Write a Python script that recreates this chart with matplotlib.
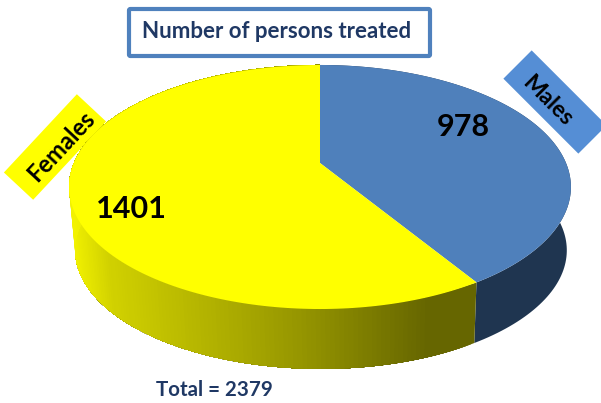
import numpy as np
import matplotlib.pyplot as plt
from matplotlib.patches import FancyBboxPatch, Rectangle
from matplotlib.transforms import Affine2D

# Data
categories = ['Males', 'Females']
values = [978, 1401]
title_text = 'Number of persons treated'

# Colours
top_colors = ['#4f80bb', '#ffff00']
blue_side = '#1f3550'
label_colors = ['#558ed5', '#ffff00']
navy = '#1f3864'

plt.rcParams['font.family'] = ['Lato', 'DejaVu Sans']

# Perspective settings of the disc, in pixels
tilt = 0.1967


# Circle angle (clockwise from top) to picture position
def project(theta, cx, cy, a, b):
    u = np.sin(theta)
    v = np.cos(theta)
    w = 1 + tilt * v
    return cx + a * u / w, cy - b * v / w


def top_edge(theta):
    return project(theta, 320, 163, 246, 117.3)


def bottom_edge(theta):
    return project(theta, 321, 227, 241, 114)


# Outline of the side wall between two lists of angles
def wall(angles):
    x0, y0 = top_edge(angles)
    x1, y1 = bottom_edge(angles[::-1])
    return np.concatenate([x0, x1]), np.concatenate([y0, y1])


fig = plt.figure(figsize=(6.01, 4.03), dpi=100)
ax = fig.add_axes([0, 0, 1, 1])
ax.set_xlim(0, 601)
ax.set_ylim(403, 0)
ax.axis('off')

# Slice angles come from the values
fractions = np.array(values) / sum(values)
edges = np.concatenate([[0], np.cumsum(fractions)]) * 2 * np.pi

# Blue side wall
xs, ys = wall(np.linspace(edges[0], edges[1], 120))
ax.fill(xs, ys, color=blue_side, linewidth=0, zorder=2)

# Yellow side wall: each strip runs on to the end and is painted over by the next,
# so there are no seams between strips
strip_x = [70, 110, 300, 430, 475]
strip_r = [0.95, 0.82, 0.59, 0.40, 0.40]
angles = np.linspace(edges[1], edges[2], 240)
for k in range(len(angles) - 1):
    xs, ys = wall(angles[k:])
    r = np.interp(top_edge(angles[k])[0], strip_x, strip_r)
    ax.fill(xs, ys, color=(r, r, 0), linewidth=0, zorder=2)

# Top face of the pie
apex_x, apex_y = 320, 163
for i in range(len(values)):
    x, y = top_edge(np.linspace(edges[i], edges[i + 1], 200))
    ax.fill(np.r_[apex_x, x], np.r_[apex_y, y], color=top_colors[i], linewidth=0, zorder=3)

# Title box
ax.add_patch(FancyBboxPatch((129, 9), 301, 47, boxstyle='round,pad=0,rounding_size=1.5',
                            facecolor='white', edgecolor='#4f81bd', linewidth=3, zorder=4))
ax.text(277, 32, title_text, color=navy, fontsize=16, fontweight='bold',
        ha='center', va='center', zorder=5)

# Rotated name tags
tags = [(555, 102, 106, 40, 45, 547, 101, 0, 16.5), (55, 147, 107, 40, -47, 61, 146, 1, 17)]
for cx, cy, w, h, rot, tx, ty, idx, size in tags:
    rect = Rectangle((cx - w / 2, cy - h / 2), w, h, facecolor=label_colors[idx], linewidth=0,
                     transform=Affine2D().rotate_deg_around(cx, cy, rot) + ax.transData, zorder=1)
    ax.add_patch(rect)
    ax.text(tx, ty, categories[idx], fontsize=size, fontweight='bold', color='black', rotation=-rot,
            rotation_mode='anchor', ha='center', va='center', zorder=5)

# Value labels
ax.text(463, 127, str(values[0]), fontsize=22, fontweight='bold', ha='center', va='center', zorder=5)
ax.text(131, 209, str(values[1]), fontsize=22, fontweight='bold', ha='center', va='center', zorder=5)

# Total below the pie
ax.text(214, 390, f'Total = {sum(values)}', color=navy, fontsize=14.8, fontweight='bold',
        ha='center', va='center', zorder=5)

fig.savefig('out.png', dpi=100)
